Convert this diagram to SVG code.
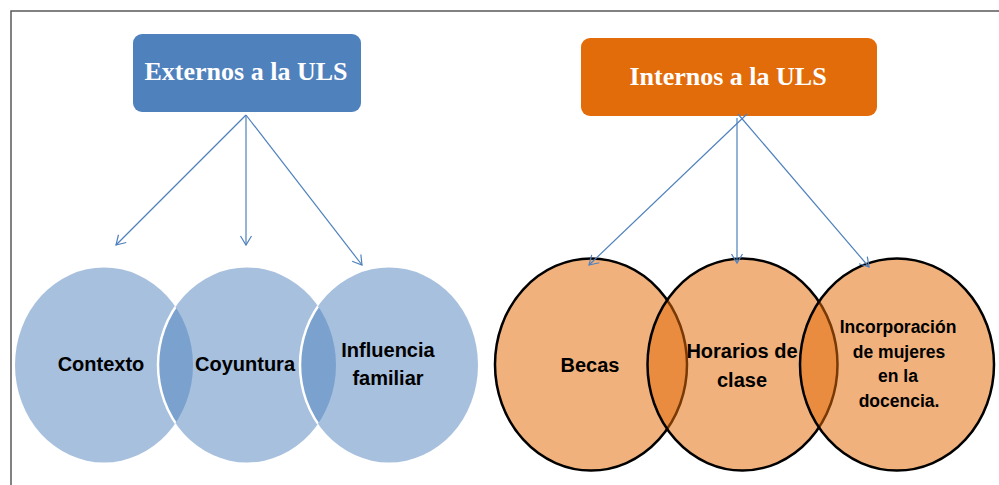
<svg xmlns="http://www.w3.org/2000/svg" width="999" height="485" viewBox="0 0 999 485">
<style>
.hdr{font-family:"Liberation Serif","Times New Roman",serif;font-weight:bold;font-size:26px;fill:#ffffff;text-anchor:middle}
.lbl{font-family:"Liberation Sans",Arial,sans-serif;font-weight:bold;font-size:20px;fill:#000000;text-anchor:middle}
.sm{font-size:17.5px}
.conn{stroke:#4f81bd;stroke-width:1.2;fill:none;marker-end:url(#arr)}
.bc{fill:#4f81bd;fill-opacity:0.5}
.edge{fill:none;stroke:#ffffff;stroke-width:2.5}
.oc{fill:#e36c0a;fill-opacity:0.53;stroke:#000000;stroke-width:2.5}
</style>
<defs>
<marker id="arr" markerUnits="userSpaceOnUse" markerWidth="14" markerHeight="14" viewBox="0 0 14 14" refX="12" refY="7" orient="auto">
<path d="M3,1.5 L12,7 L3,12.5" fill="none" stroke="#4f81bd" stroke-width="1.2"/>
</marker>
<clipPath id="clipB1"><ellipse cx="104" cy="365" rx="89" ry="97.5"/></clipPath>
<clipPath id="clipB2"><ellipse cx="247" cy="365" rx="89" ry="97.5"/></clipPath>
</defs>
<rect x="11" y="11" width="1000" height="500" fill="none" stroke="#5a5a5a" stroke-width="1.5"/>

<g id="externos">
<rect x="133" y="34" width="228" height="78" rx="9" fill="#4f81bd"/>
<text class="hdr" x="246" y="80">Externos a la ULS</text>
</g>
<g id="internos">
<rect x="581" y="38" width="296" height="78" rx="9" fill="#e36c0a"/>
<text class="hdr" x="728" y="85">Internos a la ULS</text>
</g>

<g id="contexto">
<ellipse class="bc" cx="104" cy="365" rx="89" ry="97.5"/>
<text class="lbl" x="101" y="371">Contexto</text>
</g>
<g id="coyuntura">
<ellipse class="bc" cx="247" cy="365" rx="89" ry="97.5"/>
<ellipse class="edge" cx="247" cy="365" rx="89" ry="97.5" clip-path="url(#clipB1)"/>
<text class="lbl" x="245" y="371">Coyuntura</text>
</g>
<g id="influencia">
<ellipse class="bc" cx="389" cy="365" rx="89" ry="97.5"/>
<ellipse class="edge" cx="389" cy="365" rx="89" ry="97.5" clip-path="url(#clipB2)"/>
<text class="lbl" x="388" y="357">Influencia</text>
<text class="lbl" x="388" y="385">familiar</text>
</g>

<g id="becas">
<ellipse class="oc" cx="591" cy="364.5" rx="96" ry="106"/>
<text class="lbl" x="590" y="372">Becas</text>
</g>
<g id="horarios">
<ellipse class="oc" cx="742.5" cy="364.5" rx="95" ry="106"/>
<text class="lbl" x="742" y="358">Horarios de</text>
<text class="lbl" x="742" y="387">clase</text>
</g>
<g id="incorporacion">
<ellipse class="oc" cx="897" cy="364.5" rx="97" ry="106"/>
<text class="lbl sm" x="898" y="333">Incorporación</text>
<text class="lbl sm" x="899" y="358">de mujeres</text>
<text class="lbl sm" x="898" y="382">en la</text>
<text class="lbl sm" x="899" y="407">docencia.</text>
</g>

<g id="connectors">
<line class="conn" x1="246" y1="115" x2="116" y2="245"/>
<line class="conn" x1="246" y1="115" x2="246" y2="245"/>
<line class="conn" x1="246" y1="115" x2="362" y2="265"/>
<line class="conn" x1="747" y1="114" x2="589" y2="265"/>
<line class="conn" x1="737" y1="118" x2="737" y2="263"/>
<line class="conn" x1="738" y1="114" x2="869" y2="267"/>
</g>
</svg>
